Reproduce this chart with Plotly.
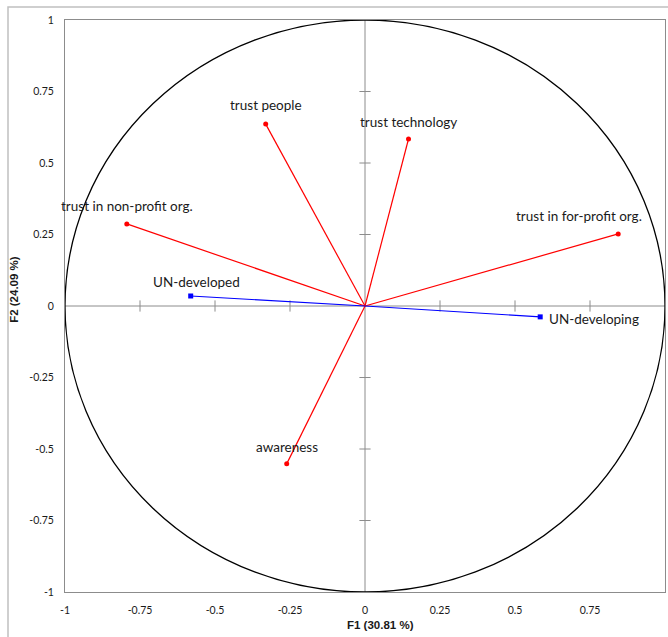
import plotly.graph_objects as go

# ---- data ----
var_names = ["trust people", "trust technology", "trust in non-profit org.",
             "trust in for-profit org.", "awareness"]
var_f1 = [-0.331, 0.145, -0.794, 0.844, -0.261]
var_f2 = [0.636, 0.584, 0.287, 0.252, -0.552]

sup_names = ["UN-developed", "UN-developing"]
sup_f1 = [-0.581, 0.584]
sup_f2 = [0.035, -0.038]

tick_vals = [-1, -0.75, -0.5, -0.25, 0, 0.25, 0.5, 0.75, 1]
tick_text = ["-1", "-0.75", "-0.5", "-0.25", "0", "0.25", "0.5", "0.75", "1"]

x_title = "F1 (30.81 %)"
y_title = "F2 (24.09 %)"

# ---- styles (label offsets in px) ----
var_label_shift = {
    "trust people": (0, 19),
    "trust technology": (0, 17),
    "trust in non-profit org.": (0, 18),
    "trust in for-profit org.": (-39, 18),
    "awareness": (0, 17),
}
sup_label_shift = {
    "UN-developed": (6, 14, "center"),
    "UN-developing": (7, -2, "left"),
}
label_font = dict(family="Lato, Roboto, sans-serif", size=13.5, color="#1a1a1a")

fig = go.Figure()

# center axes tick marks
inner_ticks = [v for v in tick_vals if v not in (-1, 0, 1)]
fig.add_trace(go.Scatter(x=[0] * len(inner_ticks), y=inner_ticks, mode="markers",
                         marker=dict(symbol="line-ew", size=8, line=dict(color="#8c8c8c", width=1)),
                         hoverinfo="skip", showlegend=False))
fig.add_trace(go.Scatter(x=inner_ticks, y=[0] * len(inner_ticks), mode="markers",
                         marker=dict(symbol="line-ns", size=8, line=dict(color="#8c8c8c", width=1)),
                         hoverinfo="skip", showlegend=False))

for n, x, y in zip(var_names, var_f1, var_f2):
    fig.add_trace(go.Scatter(x=[0, x], y=[0, y], mode="lines", line=dict(color="#ff0000", width=1.2),
                             hoverinfo="skip", showlegend=False))
fig.add_trace(go.Scatter(x=var_f1, y=var_f2, mode="markers", text=var_names,
                         marker=dict(symbol="circle", size=5, color="#ff0000"), showlegend=False))
for n, x, y in zip(sup_names, sup_f1, sup_f2):
    fig.add_trace(go.Scatter(x=[0, x], y=[0, y], mode="lines", line=dict(color="#0000ff", width=1.2),
                             hoverinfo="skip", showlegend=False))
fig.add_trace(go.Scatter(x=sup_f1, y=sup_f2, mode="markers", text=sup_names,
                         marker=dict(symbol="square", size=5, color="#0000ff"), showlegend=False))

annotations = []
for n, x, y in zip(var_names, var_f1, var_f2):
    dx, dy = var_label_shift[n]
    annotations.append(dict(x=x, y=y, text=n, showarrow=False, xanchor="center", yanchor="middle",
                            xshift=dx, yshift=dy, font=label_font))
for n, x, y in zip(sup_names, sup_f1, sup_f2):
    dx, dy, anc = sup_label_shift[n]
    annotations.append(dict(x=x, y=y, text=n, showarrow=False, xanchor=anc, yanchor="middle",
                            xshift=dx, yshift=dy, font=label_font))

title_font = dict(family="Liberation Sans, Arial, sans-serif", size=11.5, color="#1a1a1a")
annotations.append(dict(xref="paper", yref="paper", x=0.525, y=-0.058, text="<b>" + x_title + "</b>",
                        showarrow=False, xanchor="center", yanchor="middle", font=title_font))
annotations.append(dict(xref="paper", yref="paper", x=-0.085, y=0.53, text="<b>" + y_title + "</b>",
                        showarrow=False, xanchor="center", yanchor="middle", textangle=-90, font=title_font))

shapes = [
    dict(type="circle", xref="x", yref="y", x0=-1, y0=-1, x1=1, y1=1,
         line=dict(color="#000000", width=1.3), layer="above"),
    dict(type="line", xref="x", yref="y", x0=0, x1=0, y0=-1, y1=1, line=dict(color="#8c8c8c", width=1), layer="below"),
    dict(type="line", xref="x", yref="y", x0=-1, x1=1, y0=0, y1=0, line=dict(color="#8c8c8c", width=1), layer="below"),
    dict(type="rect", xref="paper", yref="paper", x0=-0.095, x1=1.03, y0=-0.12, y1=1.0227,
         line=dict(color="#c0c0c0", width=1.5)),
]

tick_font = dict(family="Lato, Roboto, sans-serif", size=10.5, color="#1a1a1a")
axis_common = dict(range=[-1, 1], tickvals=tick_vals, ticktext=tick_text, showgrid=False, zeroline=False,
                   showline=True, linecolor="#8c8c8c", linewidth=1, mirror=True, ticks="",
                   tickfont=tick_font, fixedrange=True, automargin=False)

fig.update_layout(
    width=668, height=637,
    margin=dict(l=65, r=3, t=20, b=45, autoexpand=False),
    paper_bgcolor="white", plot_bgcolor="white",
    xaxis=dict(**axis_common, ticklabelstandoff=8),
    yaxis=dict(**axis_common, ticklabelstandoff=8),
    annotations=annotations, shapes=shapes,
)

fig.write_html("out.html", config={"displayModeBar": False},
               post_script="document.body.style.margin='0';document.body.style.overflow='hidden';")
